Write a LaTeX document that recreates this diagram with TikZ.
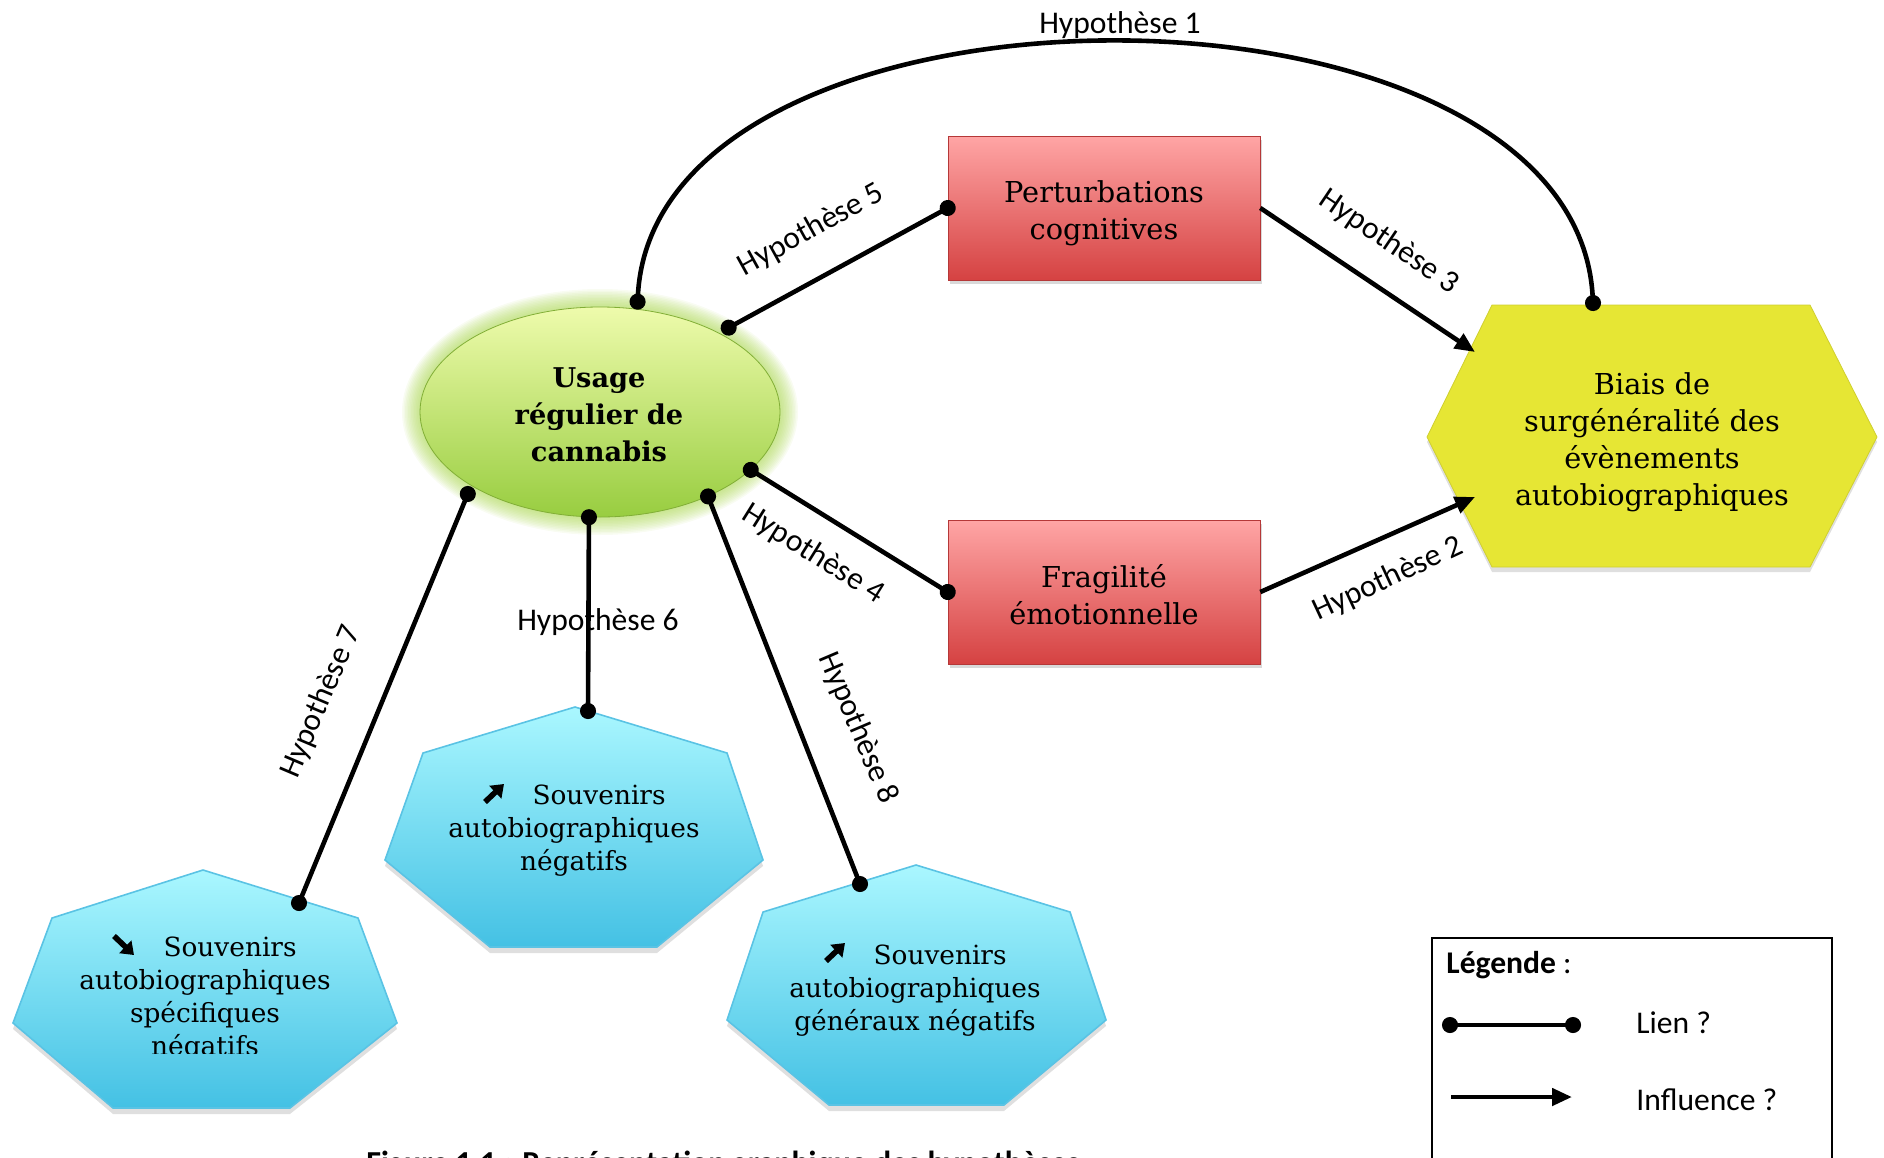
\documentclass[tikz,border=0pt]{standalone}
\usepackage{fontspec}
\setmainfont{DejaVu Serif}
\newfontfamily\calib{Carlito}
\usetikzlibrary{arrows.meta,shadows,shapes.geometric}
\definecolor{redtop}{RGB}{255,165,165}
\definecolor{redbot}{RGB}{213,66,66}
\definecolor{bluetop}{RGB}{170,247,255}
\definecolor{bluebot}{RGB}{68,193,228}
\definecolor{bluerim}{RGB}{90,195,228}
\definecolor{yel}{RGB}{230,230,52}
\definecolor{grtop}{RGB}{238,251,172}
\definecolor{grbot}{RGB}{152,205,64}
\definecolor{glowc}{RGB}{165,212,70}
\begin{document}
\begin{tikzpicture}[x=0.5pt,y=-0.5pt,
  lbl/.style={font=\calib\fontsize{15.8}{19}\selectfont, inner sep=0pt},
  link/.style={line width=2.3pt, {Circle[length=8pt]}-{Circle[length=8pt]}, shorten <=-4pt, shorten >=-4pt},
  infl/.style={line width=2.3pt, -{Triangle[length=10pt,width=8.5pt]}},
  icon/.style={line width=2.8pt, -{Triangle[length=6pt,width=8.5pt]}},
  redbox/.style={rectangle, minimum width=156pt, minimum height=72pt, inner sep=0pt,
    top color=redtop, bottom color=redbot, draw=redbot!85!black, line width=0.3pt,
    drop shadow={opacity=0.3, shadow xshift=1pt, shadow yshift=-2pt}},
  greenell/.style={ellipse, minimum width=180pt, minimum height=105pt, inner sep=0pt,
    top color=grtop, bottom color=grbot, draw=grbot!85!black, line width=0.4pt},
  yelshape/.style={fill=yel, draw=yel!90!black, line width=0.4pt,
    drop shadow={opacity=0.25, shadow xshift=0pt, shadow yshift=-2.5pt}},
  blueshape/.style={top color=bluetop, bottom color=bluebot, draw=bluerim, line width=0.8pt,
    drop shadow={opacity=0.25, shadow xshift=0pt, shadow yshift=-3pt}},
  bodytxt/.style={align=center, inner sep=0pt, font=\fontsize{14.4}{18.5}\selectfont},
  boldtxt/.style={align=center, inner sep=0pt, font=\bfseries\fontsize{13.6}{18.4}\selectfont},
  hepttxt/.style={align=center, inner sep=0pt, font=\fontsize{13.2}{16.5}\selectfont}
]
\useasboundingbox (0,0) rectangle (1884,1157);
\clip (0,0) rectangle (1884,1157);

% ---------- glow and central ellipse ----------
\foreach \i in {12,11,...,1}
  \fill[glowc, opacity=0.07] (600,412) ellipse [x radius=90pt+\i*0.75pt, y radius=52.5pt+\i*0.75pt];
\node[greenell] (usage) at (600,412) {};
\node[boldtxt] (usageT) at (599,415) {Usage\\régulier de\\cannabis};

% ---------- red boxes ----------
\node[redbox] (pert) at (1104,208) {};
\node[bodytxt] (pertT) at (1104,213) {Perturbations\\cognitives};
\node[redbox] (frag) at (1104,592) {};
\node[bodytxt] (fragT) at (1104,595) {Fragilité\\émotionnelle};

% ---------- yellow hexagon ----------
\path[yelshape] (1427,437) -- (1492,305) -- (1810,305) -- (1877,437) -- (1810,567) -- (1492,567) -- cycle;
\node[bodytxt] (bias) at (1652,442) {Biais de\\surgénéralité des\\évènements\\autobiographiques};
\coordinate (biasTop) at (1593,303);
\coordinate (biasIn3) at (1475,352);
\coordinate (biasIn2) at (1475,497);

% ---------- blue heptagons ----------
\path[blueshape] (203,870) -- (358,918) -- (397,1023) -- (290,1108) -- (113,1108) -- (13,1023) -- (52,918) -- cycle;
\path[blueshape] (575,707) -- (727,753) -- (763,860) -- (657,947) -- (490,947) -- (385,860) -- (423,753) -- cycle;
\path[blueshape] (916,865) -- (1070,912) -- (1106,1020) -- (1004,1105) -- (829,1105) -- (727,1020) -- (763,912) -- cycle;
\coordinate (hL) at (299,903);
\coordinate (hM) at (588,711);
\coordinate (hR) at (860,884);

\begin{scope}
  \clip (0,860) rectangle (420,1053);
  \node[hepttxt] (tL) at (205,999) {\hspace{1.9em}Souvenirs\\autobiographiques\\spécifiques\\négatifs};
\end{scope}
\node[hepttxt] (tM) at (574,831) {\hspace{1.9em}Souvenirs\\autobiographiques\\négatifs};
\node[hepttxt] (tR) at (915,991) {\hspace{1.9em}Souvenirs\\autobiographiques\\généraux négatifs};
% bold arrow signs before "Souvenirs"
\draw[icon] (114,936) -- (134,955);
\draw[icon] (485,802) -- (504,784);
\draw[icon] (826,961) -- (845,943);

% ---------- connectors ----------
\draw[link] ([shift={(2,-7)}]usage.71) .. controls (655,-45) and (1575,-45) .. (biasTop);
\draw[link] ([shift={(8,-6)}]usage.33) -- (pert.west);
\draw[infl] (pert.east) -- (biasIn3);
\draw[link] (usage.-21) -- (frag.west);
\draw[infl] (frag.east) -- (biasIn2);
\draw[link] (usage.-96) -- (hM);
\draw[link] ([shift={(-9,5)}]usage.212) -- (hL);
\draw[link] (usage.-38) -- (hR);

% ---------- labels ----------
\node[lbl] (h1) at (1120,25) {Hypothèse 1};
\node[lbl, rotate=29] (h5) at (811,230) {Hypothèse 5};
\node[lbl, rotate=-34] (h3) at (1389,242) {Hypothèse 3};
\node[lbl, rotate=-32] (h4) at (813,554) {Hypothèse 4};
\node[lbl, rotate=25] (h2) at (1388,579) {Hypothèse 2};
\node[lbl] (h6) at (598,622) {Hypothèse 6};
\node[lbl, rotate=67] (h7) at (321,702) {Hypothèse 7};
\node[lbl, rotate=-67] (h8) at (858,728) {Hypothèse 8};

% ---------- legend ----------
\draw[line width=1.2pt] (1432,1170) -- (1432,938) -- (1832,938) -- (1832,1170);
\node[lbl, anchor=west] (legt) at (1446,965) {\textbf{Légende} :};
\coordinate (la) at (1450,1025);
\coordinate (lb) at (1573,1025);
\draw[link] (la) -- (lb);
\node[lbl, anchor=west] (lien) at (1636,1023) {Lien ?};
\coordinate (ia) at (1451,1097);
\coordinate (ib) at (1572,1097);
\draw[infl] (ia) -- (ib);
\node[lbl, anchor=west] (influ) at (1636,1100) {Influence ?};

% ---------- caption (cut by the page edge) ----------
\node[font=\calib\bfseries\fontsize{16}{19}\selectfont, anchor=base, inner sep=0pt] (cap) at (723,1173) {Figure 1.1 : Représentation graphique des hypothèses};
\end{tikzpicture}
\end{document}
